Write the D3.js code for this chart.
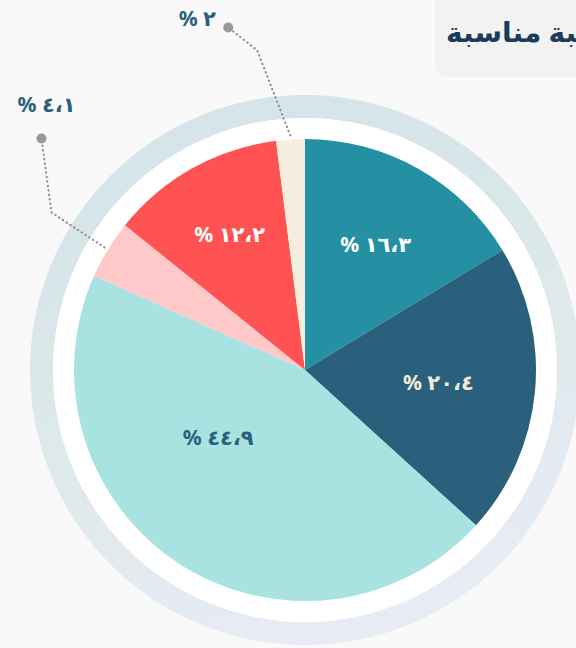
<!DOCTYPE html>
<html>
<head>
<meta charset="utf-8">
<script src="https://cdn.jsdelivr.net/npm/d3@7"></script>
<style>
	body { margin: 0; background: #f9f9f9; }
</style>
</head>
<body>
<div id="main"></div>
<script>
// data
var values = [16.3, 20.4, 44.9, 4.1, 12.2, 2];
var labels = ["١٦،٣", "٢٠،٤", "٤٤،٩", "٤،١", "١٢،٢", "٢"];
var colors = ["#2590a4", "#2a607c", "#a8e3e1", "#ffc9c9", "#ff5252", "#f5eedf"];
var textColors = ["#ffffff", "#f3ead6", "#2a607c", "#2a607c", "#ffffff", "#2a607c"];
var title = "الطلاب الراضون بنسبة مناسبة";

var w = 576, h = 648,
	cx = 305, cy = 370,
	r = 231;

var svg = d3.select("#main")
	.append("svg")
	.attr("width", w)
	.attr("height", h)
	.style("background", "#f9f9f9");

// title box, cut by the right edge
svg.append("rect")
	.attr("x", 435).attr("y", -14)
	.attr("width", 220).attr("height", 91)
	.attr("rx", 14)
	.attr("fill", "#f2f2f2");

svg.append("text")
	.attr("x", 446).attr("y", 42)
	.attr("font-family", "'Noto Sans', 'DejaVu Sans', sans-serif")
	.attr("font-weight", "bold")
	.attr("font-size", 28)
	.attr("fill", "#1b3b5a")
	.style("white-space", "pre")
	.text(title);

var defs = svg.append("defs");
var grad = defs.append("linearGradient")
	.attr("id", "ringGrad")
	.attr("x1", 0).attr("y1", 0).attr("x2", 0.3).attr("y2", 1);
grad.append("stop").attr("offset", "0%").attr("stop-color", "#d2e3e9");
grad.append("stop").attr("offset", "60%").attr("stop-color", "#dde9ea");
grad.append("stop").attr("offset", "100%").attr("stop-color", "#e6ebf4");

var g = svg.append("g")
	.attr("transform", "translate(" + cx + "," + cy + ")");

// outer rings
g.append("path")
	.attr("d", d3.arc().innerRadius(252).outerRadius(275).startAngle(0).endAngle(2 * Math.PI)())
	.attr("fill", "url(#ringGrad)");
g.append("path")
	.attr("d", d3.arc().innerRadius(r - 1).outerRadius(252).startAngle(0).endAngle(2 * Math.PI)())
	.attr("fill", "#ffffff");

var pie = d3.pie().sort(null).value(function(d) { return d; });
var arcs = pie(values);

var arc = d3.arc().innerRadius(0).outerRadius(r);

g.selectAll(".slice")
	.data(arcs)
	.enter()
	.append("path")
	.attr("class", "slice")
	.attr("d", arc)
	.attr("fill", function(d, i) { return colors[i]; });

function polar(a, rad) {
	return [Math.sin(a) * rad, -Math.cos(a) * rad];
}

var font = "'Noto Sans', 'DejaVu Sans', sans-serif";

// labels inside the big slices
arcs.forEach(function(d, i) {
	if (d.value < 5) return;
	var mid = (d.startAngle + d.endAngle) / 2,
		rad = 185 - 2.5 * d.value;
	if (d.endAngle - d.startAngle > Math.PI * 0.8) {
		mid += 0.33;
		rad = 110;
	}
	var p = polar(mid, rad);
	g.append("text")
		.attr("x", p[0]).attr("y", p[1])
		.attr("dy", "0.35em")
		.attr("text-anchor", "middle")
		.attr("font-family", font)
		.attr("font-weight", "bold")
		.attr("font-size", 21)
		.attr("fill", textColors[i])
		.text("% " + labels[i]);
});

// callouts for the small slices
var callouts = {
	3: { elbow: [-53, -35], end: [-10, -74], text: [5, -34] },
	5: { elbow: [-33, -85], end: [-29, -23], text: [-31, -9] }
};

arcs.forEach(function(d, i) {
	if (d.value >= 5) return;
	var c = callouts[i];
	var mid = (d.startAngle + d.endAngle) / 2;
	var s = polar(mid, 235);
	var e1 = [s[0] + c.elbow[0], s[1] + c.elbow[1]];
	var e2 = [e1[0] + c.end[0], e1[1] + c.end[1]];
	g.append("path")
		.attr("d", d3.line()([s, e1, e2]))
		.attr("fill", "none")
		.attr("stroke", "#8a8a8a")
		.attr("stroke-width", 2)
		.attr("stroke-linecap", "round")
		.attr("stroke-dasharray", "0.5,4");
	g.append("circle")
		.attr("cx", e2[0]).attr("cy", e2[1])
		.attr("r", 5)
		.attr("fill", "#999999");
	g.append("text")
		.attr("x", e2[0] + c.text[0]).attr("y", e2[1] + c.text[1])
		.attr("dy", "0.35em")
		.attr("text-anchor", "middle")
		.attr("font-family", font)
		.attr("font-weight", "bold")
		.attr("font-size", 21)
		.attr("fill", textColors[i])
		.text("% " + labels[i]);
});
</script>
</body>
</html>
